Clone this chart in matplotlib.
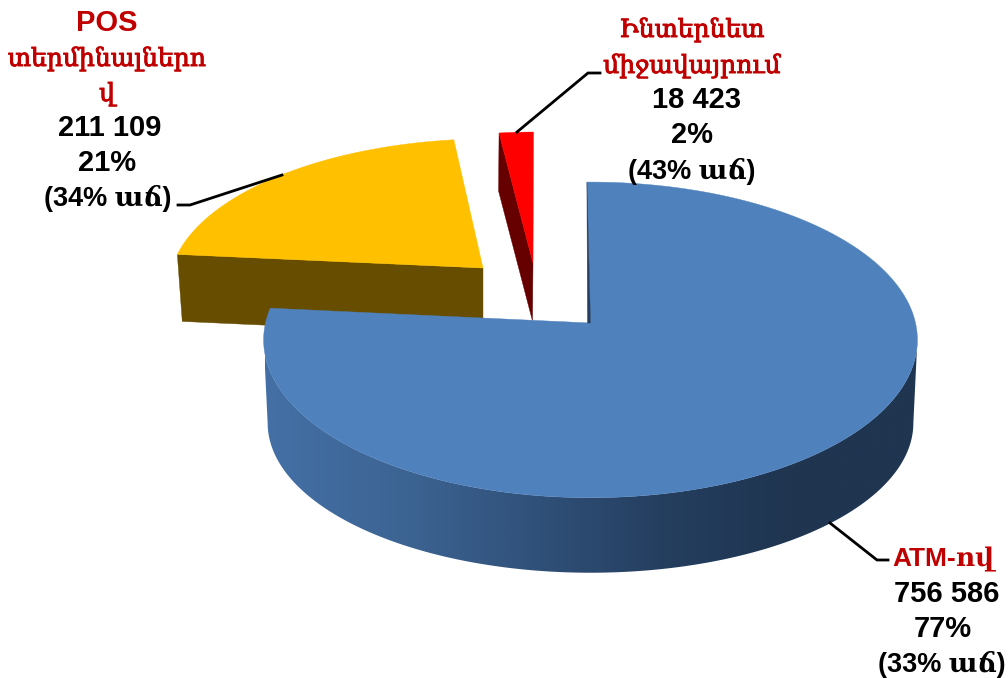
import numpy as np
import matplotlib
matplotlib.use("Agg")
import matplotlib.pyplot as plt
import matplotlib.patheffects as pe
from matplotlib.colors import LinearSegmentedColormap
from matplotlib.patches import Polygon

# data
categories = ["ATM-ով", "POS տերմինալներով", "Ինտերնետ միջավայրում"]
values = [756586, 211109, 18423]
value_labels = ["756 586", "211 109", "18 423"]
share_labels = ["77%", "21%", "2%"]
growth_labels = ["(33% աճ)", "(34% աճ)", "(43% աճ)"]

FONT = ["Liberation Sans", "DejaVu Serif"]
RED_TXT = "#c00000"

W, H = 1008, 678
K = 0.107  # perspective of the tilted disc

fig = plt.figure(figsize=(W / 100, H / 100), dpi=100)
ax = fig.add_axes([0, 0, 1, 1])


def arc(x0, y0, a, b, t1, t2, shear=0.0, n=200):
    t = np.radians(np.linspace(t1, t2, n))
    u, v = np.sin(t), np.cos(t)
    d = 1 + K * v
    return np.column_stack([x0 + (a * u + shear * v) / d, y0 - b * v / d])


def poly(pts, color, z):
    ax.add_patch(Polygon(pts, closed=True, fc=color, ec=color, lw=0.3, zorder=z))


# wedge angles, clockwise from 12 o'clock
fracs = np.array(values) / sum(values)
edges = -0.7 + np.concatenate([[0], np.cumsum(fracs) * 360])

# POS wedge
t1, t2 = edges[1], edges[2]
apex = np.array([483.0, 268.0])
low = np.array([483.0, 335.0])
top = arc(apex[0], apex[1], 311, 143, t1, t2, 8)
bot = arc(low[0], low[1], 306, 143, t1, t2, 8)
poly(np.vstack([top[0], apex, low, bot[0]]), "#664d00", 1)
poly(np.vstack([apex, top]), "#ffc000", 2)

# internet wedge
t1, t2 = edges[2], edges[3]
apex = np.array([533.0, 263.0])
low = np.array([532.5, 321.0])
top = arc(apex[0], apex[1], 325, 145, t1, t2, 4.5)
bot = arc(low[0], low[1], 325, 145, t1, t2, 4.5)
poly(np.vstack([top[0], apex, low, bot[0]]), "#660000", 1)
poly(np.vstack([apex, top]), "#ff0000", 2)

# ATM wedge, the side runs between the two points where the disc is widest
t1, t2 = edges[0], edges[1]
cx, cy = 590.5, 323.0
wide = np.degrees(np.arccos(-K))
top_s = arc(cx, cy, 325, 156, wide, 360 - wide)
bot_s = arc(cx, cy + 84, 321, 148, wide, 360 - wide)
side = np.vstack([top_s, bot_s[::-1]])
patch = Polygon(side, closed=True, fc="none", ec="none", zorder=3)
ax.add_patch(patch)
cmap = LinearSegmentedColormap.from_list(
    "side", ["#4470a6", "#3d6594", "#31527b", "#253f60", "#1f3550", "#1f3550"])
im = ax.imshow(np.linspace(0, 1, 256).reshape(1, -1), cmap=cmap, aspect="auto",
               extent=[265, 920, 600, 300], zorder=3)
im.set_clip_path(patch)

top = arc(cx, cy, 325, 156, t1, t2)
poly(np.vstack([[cx, cy], top]), "#4f81bd", 4)
poly(np.vstack([top[0], [cx, cy], [cx - 3, cy]]), "#253f60", 5)

# leader lines
leaders = [([830, 877, 888], [523, 560, 560]),
           ([178, 190, 282], [205, 205, 175]),
           ([517, 588, 600], [132, 73, 73])]
for xs, ys in leaders:
    ax.plot(xs, ys, color="black", lw=2, solid_joinstyle="miter", zorder=6)


def latin(x, y, s, color="black", size=21):
    ax.text(x, y, s, ha="center", va="baseline", fontsize=size, fontweight="bold",
            family=FONT, color=color, zorder=7)


def armenian(x, y, s):
    # regular weight with a thin stroke, the bold cut runs too wide
    t = ax.text(x, y, s, ha="center", va="baseline", fontsize=18, family="DejaVu Serif",
                color=RED_TXT, zorder=7)
    t.set_path_effects([pe.withStroke(linewidth=0.7, foreground=RED_TXT)])


latin(943, 566, categories[0], RED_TXT, 19)
latin(947, 602, value_labels[0])
latin(943, 637, share_labels[0])
latin(942, 672, growth_labels[0], size=19.5)

latin(107, 31, "POS", RED_TXT)
armenian(107, 66, "տերմինալներո")
armenian(107, 101, "վ")
latin(110, 136, value_labels[1])
latin(107, 171, share_labels[1])
latin(108, 206, growth_labels[1], size=19.5)

armenian(692, 37, "Ինտերնետ")
armenian(692, 73, "միջավայրում")
latin(696, 108, value_labels[2])
latin(692, 143, share_labels[2])
latin(692, 179, growth_labels[2], size=19.5)

ax.set_xlim(0, W)
ax.set_ylim(H, 0)
ax.axis("off")
fig.savefig("out.png", dpi=100, facecolor="white")
